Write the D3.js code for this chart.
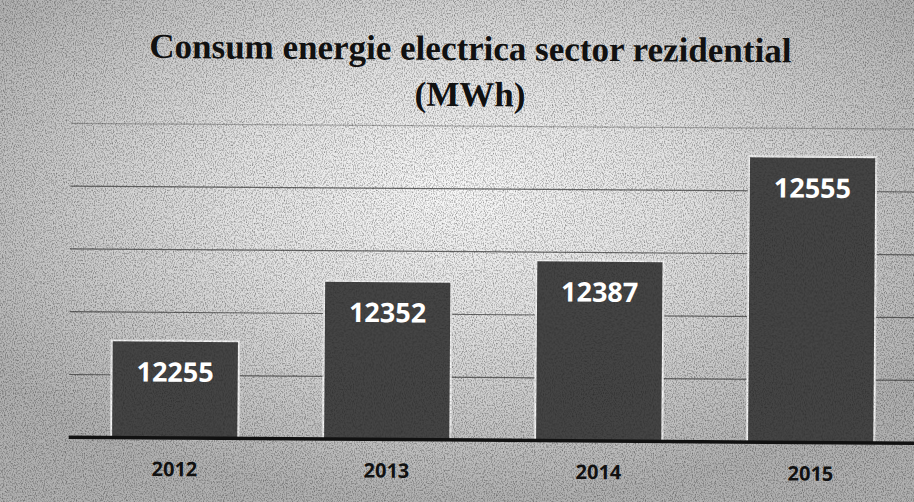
<!DOCTYPE html>
<html>
<head>
<meta charset="utf-8">
<script src="https://cdn.jsdelivr.net/npm/d3@7"></script>
<style>
  html, body { margin: 0; padding: 0; background: #c4c4c4; }
  svg { display: block; }
</style>
</head>
<body>
<div id="chart"></div>
<script>
const years = ["2012", "2013", "2014", "2015"];
const consum = [12255, 12352, 12387, 12555];
const gridTicks = [12200, 12300, 12400, 12500, 12600];
const titleLines = ["Consum energie electrica sector rezidential", "(MWh)"];

const W = 914, H = 502;

const svg = d3.select("#chart").append("svg")
    .attr("width", W)
    .attr("height", H);

const defs = svg.append("defs");

// scanned paper look: light patch in the middle, darker edges
const grad = defs.append("radialGradient")
    .attr("id", "paper")
    .attr("cx", "50%").attr("cy", "38%").attr("r", "62%");
grad.append("stop").attr("offset", "0%").attr("stop-color", "#f8f8f8");
grad.append("stop").attr("offset", "40%").attr("stop-color", "#e2e2e2");
grad.append("stop").attr("offset", "100%").attr("stop-color", "#b0b0b0");

// grain
const noise = defs.append("filter").attr("id", "grain")
    .attr("x", 0).attr("y", 0).attr("width", "100%").attr("height", "100%");
noise.append("feTurbulence")
    .attr("type", "fractalNoise")
    .attr("baseFrequency", "0.9 0.6")
    .attr("numOctaves", 2)
    .attr("seed", 3)
    .attr("result", "t");
noise.append("feColorMatrix")
    .attr("type", "matrix")
    .attr("values", "0 0 0 0 0  0 0 0 0 0  0 0 0 0 0  0 0 0 -2.2 1.25");

svg.append("rect")
    .attr("width", W).attr("height", H)
    .attr("fill", "url(#paper)");
svg.append("rect")
    .attr("width", W).attr("height", H)
    .attr("filter", "url(#grain)")
    .attr("opacity", 0.4);

// the scan is slightly rotated
const g = svg.append("g")
    .attr("transform", "rotate(0.4, 457, 251)");

const x = d3.scaleBand()
    .domain(years)
    .range([70, 918])
    .paddingInner(0.4)
    .paddingOuter(0.2);

const y = d3.scaleLinear()
    .domain([12100, 12600])
    .range([440, 126]);

// gridlines
g.append("g")
    .selectAll("line")
    .data(gridTicks)
    .join("line")
    .attr("x1", 70)
    .attr("x2", W + 10)
    .attr("y1", d => y(d))
    .attr("y2", d => y(d))
    .attr("stroke", "#3a3a3a")
    .attr("stroke-width", 1.2)
    .attr("opacity", d => d === 12600 ? 0.35 : 0.75);

// bars
const bars = g.append("g");
bars.selectAll("rect.bar")
    .data(consum)
    .join("rect")
    .attr("class", "bar")
    .attr("x", (d, i) => x(years[i]))
    .attr("y", d => y(d))
    .attr("width", x.bandwidth())
    .attr("height", d => y(12100) - y(d))
    .attr("fill", "#444444")
    .attr("stroke", "#f4f4f4")
    .attr("stroke-width", 2);

bars.selectAll("rect.grain")
    .data(consum)
    .join("rect")
    .attr("class", "grain")
    .attr("x", (d, i) => x(years[i]))
    .attr("y", d => y(d))
    .attr("width", x.bandwidth())
    .attr("height", d => y(12100) - y(d))
    .attr("filter", "url(#grain)")
    .attr("opacity", 0.3);

// value labels
g.append("g")
    .selectAll("text")
    .data(consum)
    .join("text")
    .attr("x", (d, i) => x(years[i]) + x.bandwidth() / 2)
    .attr("y", d => y(d) + 41)
    .attr("text-anchor", "middle")
    .attr("fill", "#ffffff")
    .style("font-family", "'Open Sans', sans-serif")
    .style("font-weight", "bold")
    .style("font-size", "27px")
    .text(d => d);

// baseline axis
const xAxis = g.append("g")
    .attr("transform", `translate(0,${y(12100)})`)
    .call(d3.axisBottom(x).tickSize(0).tickPadding(24));
xAxis.select(".domain")
    .attr("d", `M70,0H${W + 10}`)
    .attr("stroke", "#111")
    .attr("stroke-width", 3.5);
xAxis.selectAll("text")
    .attr("fill", "#111")
    .style("font-family", "'Open Sans', sans-serif")
    .style("font-weight", "bold")
    .style("font-size", "20px");

// title
g.append("g")
    .selectAll("text")
    .data(titleLines)
    .join("text")
    .attr("x", 469)
    .attr("y", (d, i) => 60 + i * 46)
    .attr("text-anchor", "middle")
    .attr("fill", "#111")
    .style("font-family", "'Liberation Serif', 'Times New Roman', serif")
    .style("font-weight", "bold")
    .style("font-size", "35px")
    .text(d => d);
</script>
</body>
</html>
